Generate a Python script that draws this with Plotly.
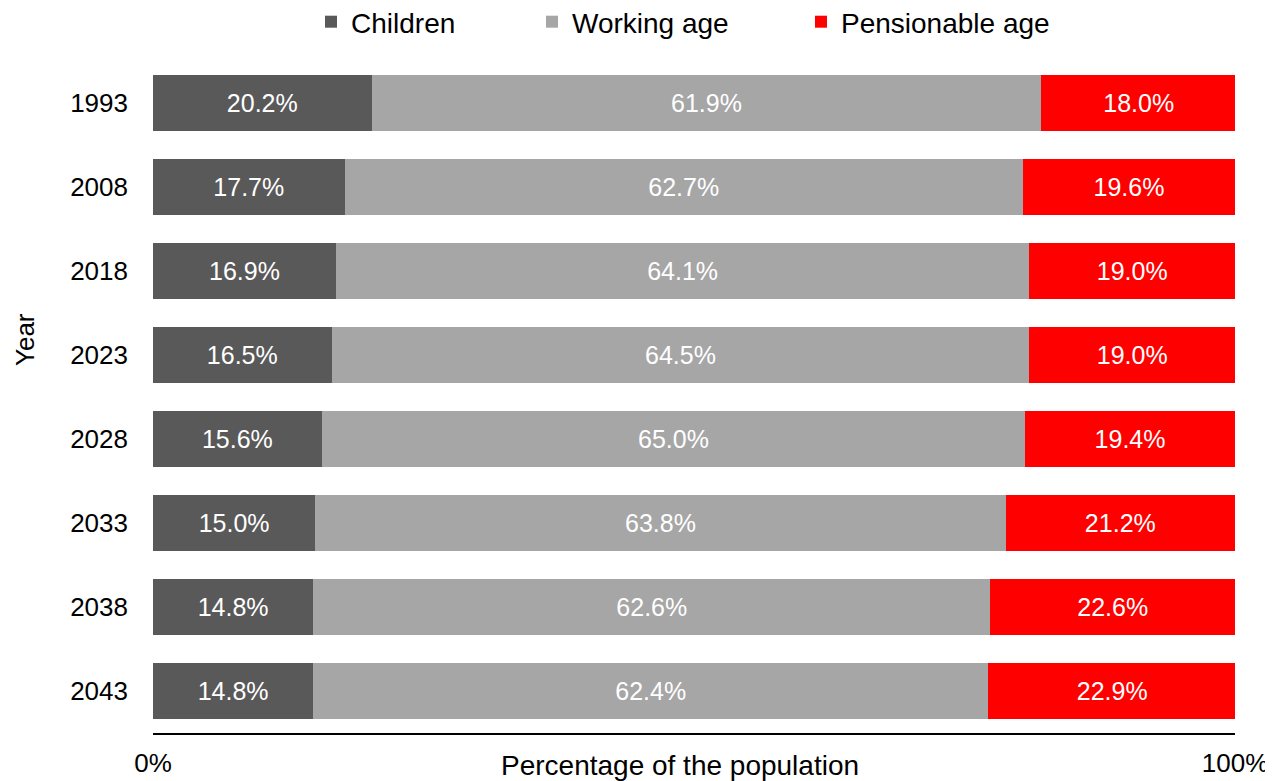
import plotly.graph_objects as go

years = ["1993", "2008", "2018", "2023", "2028", "2033", "2038", "2043"]
children = [20.2, 17.7, 16.9, 16.5, 15.6, 15.0, 14.8, 14.8]
working = [61.9, 62.7, 64.1, 64.5, 65.0, 63.8, 62.6, 62.4]
pension = [18.0, 19.6, 19.0, 19.0, 19.4, 21.2, 22.6, 22.9]
series_names = ["Children", "Working age", "Pensionable age"]
series_colors = ["#595959", "#A6A6A6", "#FF0000"]
x_tick_vals = [0, 100]
x_tick_text = ["0%", "100%"]

# The page body adds an 8px offset, so the figure is drawn 8px smaller
OFF = 8
W, H = 1273 - OFF, 781 - OFF
L, R, T = 153 - OFF, 38, 61 - OFF
pw = W - L - R
ph = 672
B = H - T - ph

legend_names = ["legend", "legend2", "legend3"]
legend_left_px = [303, 524, 793]

fig = go.Figure()
for name, vals, col, lg in zip(series_names, [children, working, pension], series_colors, legend_names):
    fig.add_trace(go.Bar(
        y=years, x=vals, name=name, orientation="h",
        marker=dict(color=col, line=dict(width=0)),
        text=[f"{v:.1f}%" for v in vals],
        textposition="inside", insidetextanchor="middle",
        textfont=dict(color="white", size=25, family="Liberation Sans"),
        constraintext="none",
        hoverinfo="skip",
        legend=lg,
    ))

legend_common = dict(orientation="h", xref="container", yref="container",
                     y=1 - (22 - OFF) / H, yanchor="middle", xanchor="left",
                     font=dict(size=28, family="Liberation Sans", color="black"),
                     itemwidth=30, bgcolor="rgba(0,0,0,0)", borderwidth=0)

layout_legends = {}
for lg, xpx in zip(legend_names, legend_left_px):
    layout_legends[lg] = dict(legend_common, x=xpx / W)

fig.update_layout(
    barmode="stack",
    bargap=0.33,
    width=W, height=H,
    margin=dict(l=L, r=R, t=T, b=B, autoexpand=False),
    paper_bgcolor="white", plot_bgcolor="white",
    font=dict(family="Liberation Sans", size=28, color="black"),
    showlegend=True,
    xaxis=dict(range=[0, 100], tickvals=x_tick_vals, ticktext=x_tick_text,
               showgrid=False, zeroline=False, showline=True, linecolor="black",
               linewidth=2, ticks="", ticklabelstandoff=6, automargin=False,
               tickfont=dict(size=26, family="Liberation Sans")),
    yaxis=dict(categoryorder="array", categoryarray=years, autorange="reversed",
               showgrid=False, zeroline=False, showline=False, ticks="",
               ticklabelstandoff=24, automargin=False,
               tickfont=dict(size=26, family="Liberation Sans")),
    annotations=[
        dict(text="Percentage of the population", xref="paper", yref="paper",
             x=(680 - OFF - L) / pw, y=-(765 - OFF - (T + ph)) / ph,
             xanchor="center", yanchor="middle", showarrow=False,
             font=dict(size=28)),
        dict(text="Year", xref="paper", yref="paper",
             x=(25 - OFF - L) / pw, y=((T + ph) - (340 - OFF)) / ph,
             xanchor="center", yanchor="middle", textangle=-90, showarrow=False,
             font=dict(size=26)),
    ],
    **layout_legends,
)

fig.write_html("out.html")
